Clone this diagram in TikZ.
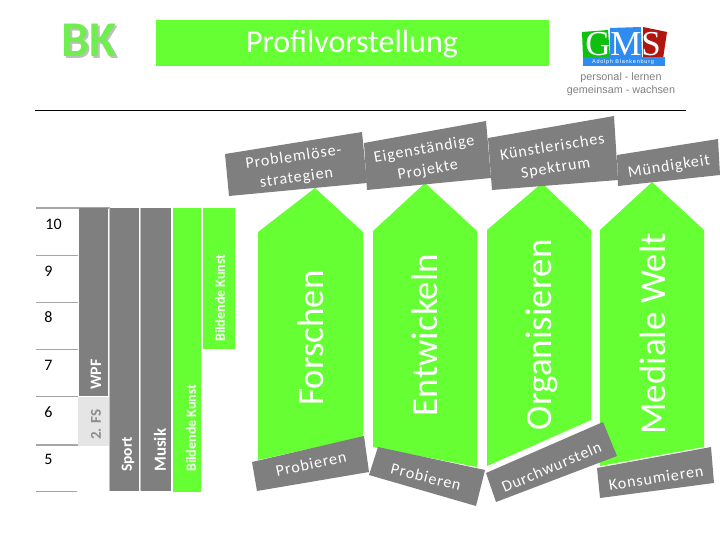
\documentclass[tikz,border=0pt]{standalone}
\usepackage{fontspec}
\setmainfont{Carlito}
\newfontfamily\arialf{Liberation Sans}
\newfontfamily\logof{Liberation Serif}
\newfontfamily\tagf[LetterSpace=6]{Carlito}
\newfontfamily\stripf[LetterSpace=14]{Liberation Sans}
\definecolor{bkgreen}{HTML}{66FF33}
\definecolor{bktitle}{HTML}{70EE50}
\definecolor{bkgray}{HTML}{7F7F7F}
\definecolor{rowline}{HTML}{A6A6A6}
\definecolor{logogreen}{HTML}{10C010}
\definecolor{logoblue}{HTML}{2E8CF0}
\definecolor{logored}{HTML}{B01510}
\tikzset{
  grayfill/.style={fill=bkgray,draw=none},
  greenfill/.style={fill=bkgreen,draw=none},
  tag/.style={text=white,font=\tagf\fontsize{16}{21}\selectfont,align=center,inner sep=0pt},
  bigword/.style={text=white,font=\fontsize{37}{39}\selectfont,rotate=90,inner sep=0pt},
  bar/.style={text=white,font=\bfseries\fontsize{14}{16}\selectfont,rotate=90,inner sep=0pt,anchor=west},
  rownum/.style={font=\fontsize{16}{18}\selectfont,inner sep=0pt,text=black},
  rowrule/.style={draw=rowline,line width=1.3pt},
  logoletter/.style={text=white,font=\logof\fontsize{35}{35}\selectfont,inner sep=0pt},
}
\begin{document}
\begin{tikzpicture}[x=1pt,y=-1pt]
\useasboundingbox (0,0) rectangle (720,540);
% header
\node (bkshadow) [text=black!25,font=\bfseries\fontsize{50}{52}\selectfont,inner sep=0pt] at (91,42) {BK};
\node (bk) [text=bktitle,font=\bfseries\fontsize{50}{52}\selectfont,inner sep=0pt] at (89,40) {BK};
\fill[greenfill] (155.5,20) rectangle (549,66);
\node (title) [text=white,font=\fontsize{32}{34}\selectfont,inner sep=0pt] at (352,44) {Profilvorstellung};
% logo
\fill[logogreen] (582,32) -- (608,30) -- (610,57) -- (583,58) -- cycle;
\fill[logoblue] (610,28) -- (641,27) -- (642,58) -- (610,58) -- cycle;
\fill[logored] (643,27) -- (667,32) -- (663,59) -- (643,57) -- cycle;
\fill[logoblue] (583,57) rectangle (665,66);
\node (logoG) [logoletter] at (598,44) {G};
\node (logoM) [logoletter] at (626,44) {M};
\node (logoS) [logoletter] at (651,44) {S};
\node (logotxt) [text=white,font=\stripf\fontsize{5.5}{6}\selectfont,inner sep=0pt] at (623,62) {Adolph Blankenburg};
\node (motto) [text=black!50,font=\arialf\fontsize{10.8}{13}\selectfont,align=center,inner sep=0pt] at (621,84) {personal - lernen\\gemeinsam - wachsen};
\draw[black,line width=1pt] (35,111) -- (686,111);
% rows
\draw[rowrule] (36,208) -- (110,208);
\draw[rowrule] (36,255.7) -- (78,255.7);
\draw[rowrule] (36,302.7) -- (78,302.7);
\draw[rowrule] (36,349.7) -- (78,349.7);
\draw[rowrule] (36,396.7) -- (78,396.7);
\draw[rowrule] (36,445) -- (78,445);
\draw[rowrule] (36,491.7) -- (77,491.7);
\node (n10) [rownum] at (53.5,224) {10};
\node (n9) [rownum] at (48.5,271) {9};
\node (n8) [rownum] at (48.5,317.5) {8};
\node (n7) [rownum] at (48.5,365) {7};
\node (n6) [rownum] at (48.5,412) {6};
\node (n5) [rownum] at (48.5,459) {5};
% bars
\draw[draw=rowline!70,line width=1pt] (109.5,208) -- (109.5,491);
\draw[draw=rowline!70,line width=1pt] (140,208) -- (140,491);
\fill[grayfill] (79,208) rectangle (108,396);
\fill[black!10] (78,397) rectangle (109,446);
\fill[grayfill] (110,208) rectangle (139,491);
\fill[grayfill] (141,208) rectangle (171,491);
\fill[greenfill] (173,208) rectangle (201,492);
\fill[greenfill] (203,208) rectangle (235,349);
\node (wpf) [bar,font=\bfseries\fontsize{16}{18}\selectfont] at (96,390) {WPF};
\node (fs) [bar,text=black!45,font=\bfseries\fontsize{15}{17}\selectfont] at (96,440) {2. FS};
\node (sport) [bar,font=\bfseries\fontsize{15.5}{17}\selectfont] at (128,472) {Sport};
\node (musik) [bar,font=\bfseries\fontsize{17}{19}\selectfont] at (160,472) {Musik};
\node (bk1) [bar] at (191,472) {Bildende Kunst};
\node (bk2) [bar] at (220,342) {Bildende Kunst};
% arrows
\fill[greenfill] (258,460) -- (258,232) -- (315,188) -- (363,232) -- (363,437) -- cycle;
\fill[greenfill] (373,447) -- (373,231) -- (425,183) -- (477,231) -- (477,467) -- cycle;
\fill[greenfill] (487,466) -- (487,230) -- (542,183) -- (591,230) -- (591,420) -- cycle;
\fill[greenfill] (600,466) -- (600,230) -- (652,182) -- (704,230) -- (704,447) -- cycle;
\node (w1) [bigword] at (311,338) {Forschen};
\node (w2) [bigword] at (425,335) {Entwickeln};
\node (w3) [bigword] at (542,335) {Organisieren};
\node (w4) [bigword] at (653,334) {Mediale Welt};
% top tags
\fill[grayfill] (225,154) -- (362,132) -- (367,183) -- (229,196) -- cycle;
\fill[grayfill] (364,143) -- (486,121) -- (491,178) -- (367,190) -- cycle;
\fill[grayfill] (488,138) -- (614,116) -- (618,180) -- (492,190) -- cycle;
\fill[grayfill] (617,155) -- (718,139) -- (720,175) -- (618,186) -- cycle;
\node (t1) [tag,rotate=8] at (295,168) {Problemlöse-\\strategien};
\node (t2) [tag,rotate=10] at (426,160) {Eigenständige\\Projekte};
\node (t3) [tag,rotate=9] at (554,158) {Künstlerisches\\Spektrum};
\node (t4) [tag,rotate=9] at (669,167) {Mündigkeit};
% bottom tags
\fill[grayfill] (252,462) -- (364,436) -- (369,472) -- (257,491) -- cycle;
\fill[grayfill] (378,447) -- (485,470) -- (476,506) -- (369,475) -- cycle;
\fill[grayfill] (486,473) -- (603,422) -- (617,456) -- (496,502) -- cycle;
\fill[grayfill] (597,468) -- (711,447) -- (714,483) -- (600,498) -- cycle;
\node (b1) [tag,rotate=12] at (311,464) {Probieren};
\node (b2) [tag,rotate=-14] at (426,477) {Probieren};
\node (b3) [tag,rotate=23] at (551.5,467) {Durchwursteln};
\node (b4) [tag,rotate=9] at (656,478) {Konsumieren};
\end{tikzpicture}
\end{document}
